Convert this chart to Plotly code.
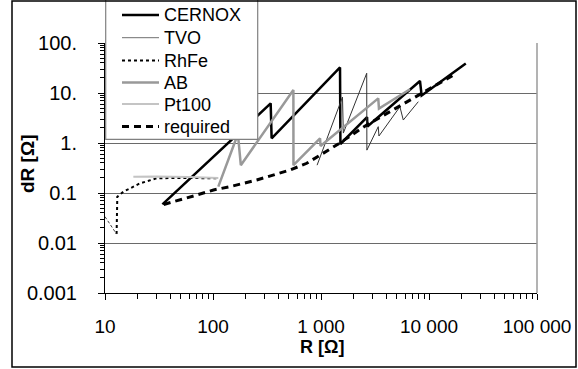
import plotly.graph_objects as go

# ---- data ----
cernox_R = [34, 342, 349, 1500, 1513, 2670, 2690, 8250, 8550, 21900]
cernox_dR = [0.059, 6.2, 1.24, 32.4, 0.955, 3.31, 2.14, 17.4, 8.9, 38.9]

tvo_R = [920, 1581, 1610, 2650, 2660, 3390, 3440, 5380, 5780, 7960]
tvo_dR = [0.36, 8.3, 1.58, 24.8, 0.72, 2.12, 1.38, 5.3, 2.88, 6.7]

rhfe_lead_R = [10, 12.8]
rhfe_lead_dR = [0.0336, 0.0151]
rhfe_R = [12.8, 13.0, 14.8, 21.1, 30.1, 50, 108]
rhfe_dR = [0.0151, 0.0844, 0.106, 0.156, 0.197, 0.2, 0.197]

ab_R = [112, 170, 181, 555, 556, 980, 990, 3390, 3440, 6670]
ab_dR = [0.134, 1.51, 0.36, 11.5, 0.36, 1.24, 0.87, 7.8, 4.9, 11.9]

pt100_R = [18.3, 30, 60, 112]
pt100_dR = [0.212, 0.215, 0.21, 0.2]

required_R = [35, 49.5, 70.6, 101, 144, 254, 362, 516, 738, 1050, 1445, 2650, 5380, 10200, 18000]
required_dR = [0.059, 0.072, 0.091, 0.115, 0.134, 0.182, 0.229, 0.288, 0.393, 0.622, 0.955,
               2.29, 5.5, 11.9, 24.8]

series_names = ["CERNOX", "TVO", "RhFe", "AB", "Pt100", "required"]

x_ticks = [10, 100, 1000, 10000, 100000]
x_ticktext = ["10", "100", "1 000", "10 000", "100 000"]
y_ticks = [0.001, 0.01, 0.1, 1, 10, 100]
y_ticktext = ["0.001", "0.01", "0.1", "1.", "10.", "100."]

FONT = "Arial, Liberation Sans, sans-serif"
W, H = 578, 369
PL, PR, PT, PB = 105, 537, 43, 293  # plot area in pixels


def px(xpix):
    return (xpix - PL) / (PR - PL)


def py(ypix):
    return (PB - ypix) / (PB - PT)


styles = {
    "CERNOX": dict(color="black", width=2.5),
    "TVO": dict(color="#333333", width=1),
    "RhFe": dict(color="black", width=2, dash="dot"),
    "AB": dict(color="#999999", width=2.5),
    "Pt100": dict(color="#c4c4c4", width=2),
    "required": dict(color="black", width=3, dash="7px,5px"),
}

fig = go.Figure()
fig.add_trace(go.Scatter(x=cernox_R, y=cernox_dR, mode="lines", name="CERNOX",
                         line=styles["CERNOX"]))
fig.add_trace(go.Scatter(x=tvo_R, y=tvo_dR, mode="lines", name="TVO",
                         line=styles["TVO"]))
fig.add_trace(go.Scatter(x=rhfe_R, y=rhfe_dR, mode="lines", name="RhFe",
                         line=styles["RhFe"]))
fig.add_trace(go.Scatter(x=rhfe_lead_R, y=rhfe_lead_dR, mode="lines", name="RhFe lead",
                         line=dict(color="#444444", width=1, dash="3px,2px")))
fig.add_trace(go.Scatter(x=ab_R, y=ab_dR, mode="lines", name="AB",
                         line=styles["AB"]))
fig.add_trace(go.Scatter(x=pt100_R, y=pt100_dR, mode="lines", name="Pt100",
                         line=styles["Pt100"]))
fig.add_trace(go.Scatter(x=required_R, y=required_dR, mode="lines", name="required",
                         line=styles["required"]))

# ---- hand-drawn legend (to match the reference's tight row spacing) ----
shapes = [
    # right border of plot area
    dict(type="line", xref="paper", yref="paper", x0=1, x1=1, y0=0, y1=1,
         line=dict(color="#9a9a9a", width=1.5), layer="above"),
    # legend box
    dict(type="rect", xref="paper", yref="paper",
         x0=px(105.7), x1=px(257.7), y0=py(139.3), y1=py(-2),
         fillcolor="white", line=dict(color="#808080", width=1.2), layer="above"),
]
annotations = []
row_y = [15, 37.7, 60.5, 82.5, 104, 126.5]
legend_line_color = {"TVO": "#6f6f6f"}
for name, yy in zip(series_names, row_y):
    st = styles[name]
    shapes.append(dict(type="line", xref="paper", yref="paper",
                       x0=px(122), x1=px(159), y0=py(yy), y1=py(yy),
                       line=dict(color=legend_line_color.get(name, st["color"]),
                                 width=st["width"], dash=st.get("dash", "solid")),
                       layer="above"))
    annotations.append(dict(text=name, xref="paper", yref="paper", x=px(162), y=py(yy + 0.5),
                            xanchor="left", yanchor="middle", showarrow=False,
                            font=dict(family=FONT, size=18, color="black")))

# outer chart frame
shapes.append(dict(type="rect", xref="paper", yref="paper",
                   x0=px(12), x1=px(576), y0=py(367), y1=py(1),
                   line=dict(color="black", width=1.5), layer="above"))

annotations += [
    dict(text="<b>R [Ω]</b>", xref="paper", yref="paper",
         x=px(322), y=py(347), showarrow=False,
         font=dict(family=FONT, size=18), xanchor="center", yanchor="middle"),
    dict(text="<b>dR [Ω]</b>", xref="paper", yref="paper",
         x=px(27), y=py(164), showarrow=False, textangle=-90,
         font=dict(family=FONT, size=19), xanchor="center", yanchor="middle"),
]

fig.update_layout(
    width=W, height=H,
    margin=dict(l=PL, r=W - PR, t=PT, b=H - PB, autoexpand=False),
    paper_bgcolor="white", plot_bgcolor="white",
    font=dict(family=FONT, size=19, color="black"),
    showlegend=False,
    xaxis=dict(
        type="log", range=[1, 5], tickmode="array", tickvals=x_ticks, ticktext=x_ticktext,
        showgrid=False, zeroline=False,
        showline=True, linecolor="black", linewidth=1,
        ticks="outside", ticklen=6, tickcolor="black",
        minor=dict(ticks="outside", ticklen=5, tickcolor="black", dtick="D1", showgrid=False),
        ticklabelstandoff=10,
        tickfont=dict(family=FONT, size=19),
    ),
    yaxis=dict(
        type="log", range=[-3, 2], tickmode="array", tickvals=y_ticks, ticktext=y_ticktext,
        showgrid=True, gridcolor="#6a6a6a", gridwidth=1, zeroline=False,
        showline=True, linecolor="black", linewidth=1,
        ticks="outside", ticklen=6, tickcolor="black",
        minor=dict(ticks="outside", ticklen=4, tickcolor="black", dtick="D1", showgrid=False),
        ticklabelstandoff=17,
        tickfont=dict(family=FONT, size=20),
    ),
    shapes=shapes,
    annotations=annotations,
)

fig.write_html("out.html")
